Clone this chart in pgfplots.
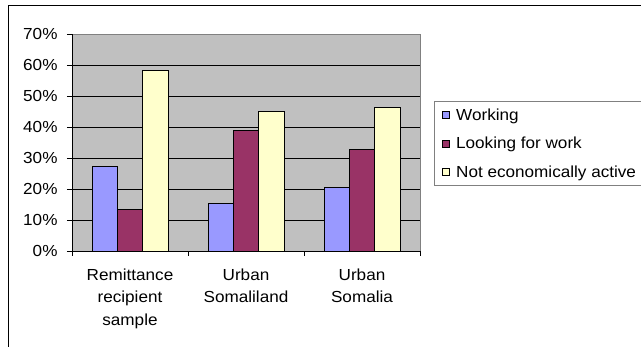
\documentclass[border=0pt]{standalone}
\usepackage{fontspec}
\setmainfont{Liberation Sans}[FakeStretch=1.07]
\usepackage{pgfplots}
\pgfplotsset{compat=1.18}

\definecolor{working}{HTML}{9999FF}
\definecolor{looking}{HTML}{993366}
\definecolor{inactive}{HTML}{FFFFCC}
\definecolor{plotbg}{HTML}{C0C0C0}
\definecolor{framegray}{HTML}{808080}

\newcommand\chartfont{\fontsize{16bp}{22.5bp}\selectfont}

% share of each group by activity status (per cent)
\pgfplotstableread{
cat working looking inactive
1   27.3    13.5    58.3
2   15.3    38.8    44.9
3   20.4    32.9    46.4
}\activitydata

\pgfplotsset{
  keybox/.style={legend image code/.code={
    \path (0bp,0bp) (19bp,0bp);
    \draw[##1, draw=black, line width=0.7bp] (8bp,-3.5bp) rectangle (15bp,3.5bp);}},
}

\begin{document}
\begin{tikzpicture}
\useasboundingbox (0bp,0bp) rectangle (641bp,347bp);
\clip (0bp,0bp) rectangle (641bp,347bp);
% chart frame
\draw[line width=1.6bp] (8.5bp,-20bp) -- (8.5bp,341.5bp) -- (700bp,341.5bp);
\begin{axis}[
  at={(72bp,96bp)}, anchor=south west,
  width=348bp, height=217bp, scale only axis,
  xmin=0.5, xmax=3.5, ymin=0, ymax=70,
  axis background/.style={fill=plotbg},
  axis line style={draw=none},
  ytick={0,10,...,70},
  yticklabels={0\%,10\%,20\%,30\%,40\%,50\%,60\%,70\%},
  ytick pos=left, xtick pos=bottom,
  tick align=outside, major tick length=5bp,
  ymajorgrids, grid style={black, line width=0.8bp},
  every tick/.style={black, line width=0.8bp},
  y tick label style={font=\chartfont, anchor=east, xshift=-6bp},
  xtick={1,2,3},
  xticklabels={{Remittance\\recipient\\sample},{Urban\\Somaliland},{Urban\\Somalia}},
  x tick label style={font=\chartfont, align=center, anchor=north, yshift=-9bp},
  xtick style={draw=none},
  extra x ticks={0.5,1.5,2.5,3.5},
  extra x tick labels={},
  extra x tick style={grid=none, xtick style={draw=black, line width=0.8bp}},
  legend style={at={(1.0402,0.6912)}, anchor=north west,
    draw=framegray, line width=0.8bp, fill=white,
    font=\chartfont, row sep=11.5bp, inner xsep=0bp, inner ysep=5bp,
    cells={anchor=west}},
  legend cell align=left,
  after end axis/.code={
    \draw[framegray, line width=0.8bp] (rel axis cs:0,1) -- (rel axis cs:1,1) -- (rel axis cs:1,0);
    \draw[black, line width=0.8bp] (rel axis cs:0,1) -- (rel axis cs:0,0) -- (rel axis cs:1,0);
  },
]
\addplot[ybar, bar width=0.2182, bar shift=-0.2182, fill=working, draw=black, line width=0.8bp, keybox]
  table[x=cat, y=working] {\activitydata};
\addplot[ybar, bar width=0.2182, bar shift=0, fill=looking, draw=black, line width=0.8bp, keybox]
  table[x=cat, y=looking] {\activitydata};
\addplot[ybar, bar width=0.2182, bar shift=0.2182, fill=inactive, draw=black, line width=0.8bp, keybox]
  table[x=cat, y=inactive] {\activitydata};
\legend{Working, Looking for work, {Not economically active\rule{25bp}{0pt}}}
\end{axis}
\end{tikzpicture}
\end{document}
